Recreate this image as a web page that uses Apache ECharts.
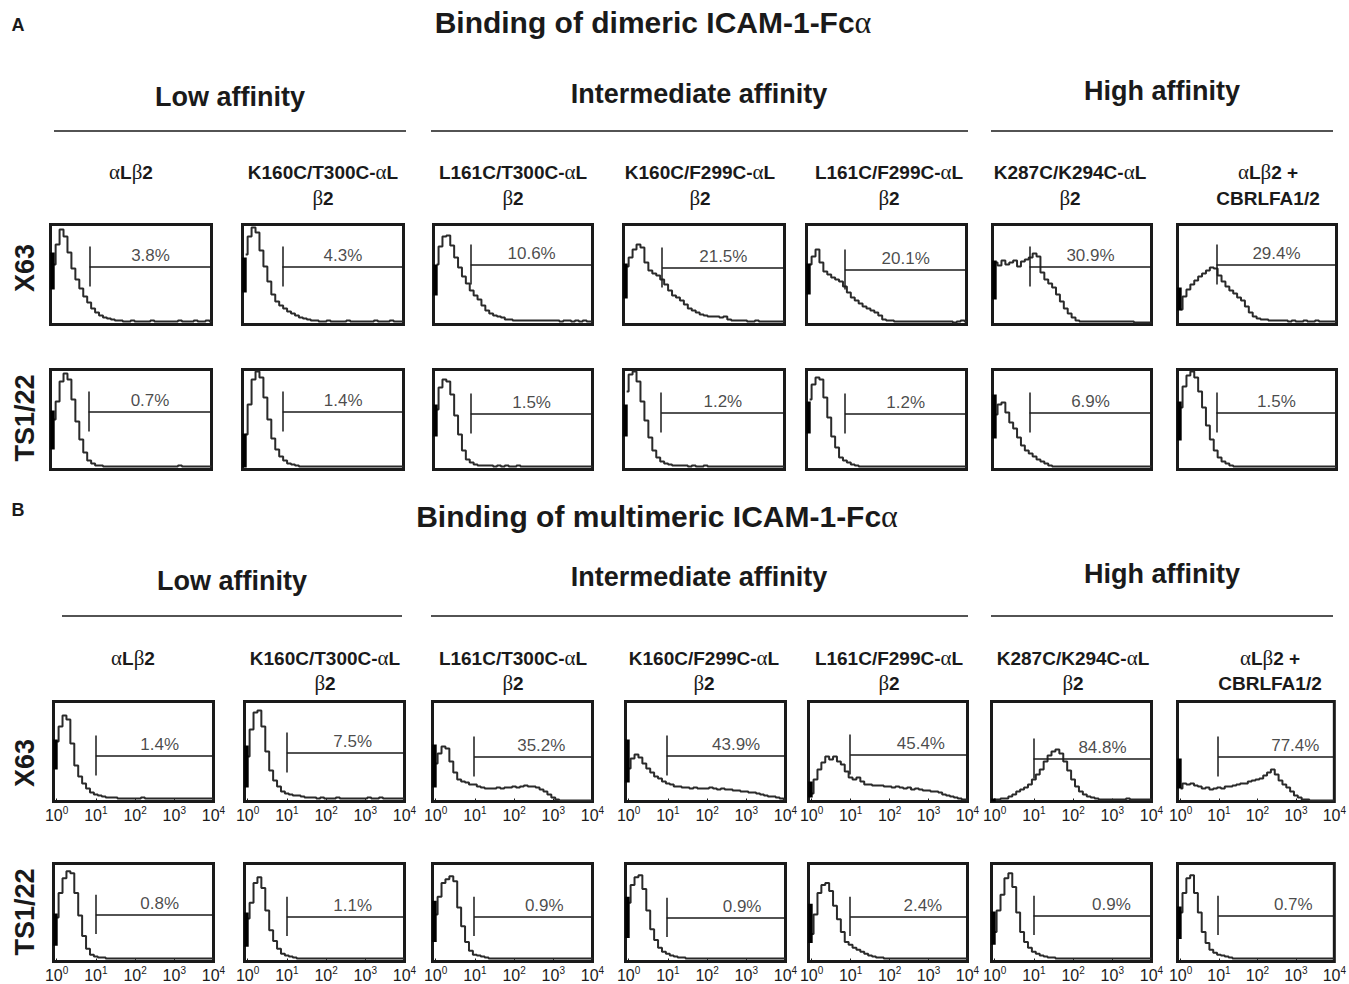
<!DOCTYPE html>
<html>
<head>
<meta charset="utf-8">
<script src="https://cdn.jsdelivr.net/npm/echarts@6/dist/echarts.min.js"></script>
<style>
html,body{margin:0;padding:0;background:#fff;}
#c{width:1349px;height:984px;}
</style>
</head>
<body>
<div id="c"></div>
<script>
// ---------------- DATA ----------------
// fluorescence channel positions (log10 units: 0 -> 10^0 ... 4 -> 10^4)
const LOG_X = [0,0.1,0.2,0.3,0.4,0.5,0.6,0.7,0.8,0.9,1,1.1,1.2,1.3,1.4,1.5,1.6,1.7,1.8,1.9,2,2.1,2.2,2.3,2.4,2.5,2.6,2.7,2.8,2.9,3,3.1,3.2,3.3,3.4,3.5,3.6,3.7,3.8,3.9,4];
const TICKS = [0,1,2,3,4];

const panelTitles = ['Binding of dimeric ICAM-1-Fcα', 'Binding of multimeric ICAM-1-Fcα'];
const panelLetters = ['A', 'B'];
const groups = ['Low affinity', 'Intermediate affinity', 'High affinity'];
const rowsLabels = ['X63', 'TS1/22'];
const columns = [
  ['αLβ2'],
  ['K160C/T300C-αL', 'β2'],
  ['L161C/T300C-αL', 'β2'],
  ['K160C/F299C-αL', 'β2'],
  ['L161C/F299C-αL', 'β2'],
  ['K287C/K294C-αL', 'β2'],
  ['αLβ2 +', 'CBRLFA1/2']
];

// relative cell counts (0-100 of the panel height)
const A_X63 = [
  [60,80,95,88,72,56,45,36,28,22,16,12,9,7,6,5,4,4,3,3,4,3,3,3,3,4,3,3,3,3,3,3,4,3,3,3,4,3,3,4,3],
  [70,88,97,92,74,58,43,30,23,19,16,13,11,9,7,6,5,4,4,3,3,4,3,3,3,3,4,3,3,3,3,3,3,4,3,3,3,4,3,3,3],
  [60,78,88,89,79,67,57,48,41,34,29,25,19,14,11,9,8,7,5,5,4,4,4,4,4,4,4,4,4,4,4,4,3,4,4,3,4,3,4,3,3],
  [58,67,75,80,77,62,54,51,49,45,40,34,29,27,24,20,16,14,12,10,9,8,8,8,7,8,5,4,4,4,4,3,3,4,3,3,3,3,3,3,3],
  [60,68,75,62,53,50,47,45,43,38,32,27,24,21,18,16,14,12,9,5,4,4,3,3,3,3,3,3,3,3,3,3,3,3,3,3,3,2,3,4,3],
  [62,59,64,60,62,64,58,63,65,67,71,68,52,45,41,37,30,23,16,11,7,4,3,3,3,3,3,3,3,3,3,3,3,3,3,3,2,2,2,2,2],
  [15,28,35,40,44,48,51,54,57,56,49,43,38,34,31,27,24,18,12,8,6,5,5,4,4,4,4,4,3,4,3,3,4,3,3,4,3,3,3,3,3]
];
const A_TS = [
  [50,68,88,96,90,70,48,30,17,9,6,4,4,3,3,3,3,3,3,3,3,3,3,3,3,3,3,3,3,3,3,3,4,3,3,3,3,3,3,3,3],
  [35,65,90,98,92,72,50,31,20,13,9,6,5,4,3,3,3,3,3,3,3,3,3,3,3,3,3,3,3,3,3,3,3,3,3,3,3,3,3,3,3],
  [60,82,90,88,75,54,35,19,10,7,5,4,4,4,4,3,4,3,4,3,3,4,3,3,3,3,3,3,3,3,3,3,3,3,3,3,3,3,3,3,3],
  [78,95,98,88,68,49,32,19,12,8,6,5,4,4,4,4,3,4,3,3,4,3,3,3,3,3,3,3,3,3,3,3,3,3,3,3,3,3,3,3,3],
  [70,85,92,90,72,52,33,22,12,9,7,5,4,3,3,3,3,3,3,3,3,3,3,3,3,3,3,3,3,3,3,3,3,3,3,3,3,3,3,3,3],
  [55,65,67,57,47,41,32,24,19,16,13,10,8,6,4,3,3,3,3,3,3,3,3,3,3,3,3,3,3,3,3,3,3,3,3,3,3,3,3,3,3],
  [62,83,94,98,92,78,62,44,30,19,12,8,6,4,3,3,3,3,3,3,3,3,3,3,3,3,3,3,3,3,3,3,3,3,3,3,3,3,3,3,3]
];
const B_X63 = [
  [60,75,86,82,58,36,25,18,13,9,7,6,5,4,4,4,3,3,3,3,3,3,4,3,3,3,3,3,3,3,3,3,3,3,3,3,3,3,3,3,3],
  [45,72,89,91,75,50,31,21,15,10,8,7,6,6,5,4,4,4,3,4,3,3,3,4,3,3,3,3,3,3,3,4,3,3,4,3,3,3,3,3,3],
  [38,48,55,53,40,29,22,20,19,17,17,15,14,13,13,13,14,13,14,14,15,14,15,16,15,15,14,12,10,7,4,2,1,1,1,1,1,1,1,1,1],
  [33,43,47,44,38,33,29,25,23,20,18,17,15,15,14,14,13,14,13,13,13,14,13,12,13,12,12,11,11,10,10,9,9,8,7,6,5,5,4,3,2],
  [8,22,32,39,45,42,45,40,37,30,24,22,24,20,17,17,16,16,16,15,15,14,15,14,13,14,12,13,12,11,11,10,10,9,7,6,5,4,3,2,2],
  [2,2,3,3,5,7,10,12,14,17,22,27,32,40,46,50,52,48,40,31,22,15,10,7,5,4,3,2,2,2,2,2,2,2,3,2,2,2,2,2,2],
  [13,18,17,18,16,15,13,14,12,13,14,13,15,15,16,17,18,18,20,21,22,23,26,29,32,27,21,17,14,10,6,4,2,2,1,1,1,1,1,1,1]
];
const B_TS = [
  [45,70,85,92,90,70,47,26,13,7,5,4,4,3,3,3,3,3,3,3,3,3,3,3,3,3,3,3,3,3,3,3,3,3,3,3,3,3,3,3,3],
  [44,60,80,86,75,52,32,21,13,8,6,5,4,3,3,3,3,3,3,3,3,3,3,3,3,3,3,3,3,3,3,3,3,3,3,3,3,3,3,3,3],
  [48,66,80,84,87,82,55,36,20,11,7,6,5,4,3,3,3,3,3,3,3,3,3,3,3,3,3,3,3,3,3,3,3,3,3,3,3,3,3,3,3],
  [60,78,86,88,74,52,33,22,14,10,8,6,5,4,4,3,3,3,3,3,3,3,3,3,3,3,3,3,3,3,3,3,3,3,3,3,3,3,3,3,3],
  [28,48,70,78,80,72,57,43,30,20,17,14,12,10,8,6,5,4,4,3,3,3,3,3,3,3,3,3,3,3,3,3,3,3,3,3,3,3,3,3,3],
  [30,52,68,85,90,76,50,30,20,14,10,8,6,5,4,4,3,3,3,3,3,3,3,3,3,3,3,3,3,3,3,3,3,3,3,3,3,3,3,3,3],
  [50,70,85,88,70,50,30,19,12,9,7,6,5,4,3,3,3,3,3,3,3,3,3,3,3,3,3,3,3,3,3,3,3,3,3,3,3,3,3,3,3]
];

// off-scale pile-up in the first channel: [low, high]
const A_X63_EDGE = [[35,72],[32,67],[29,60],[26,61],[30,61],[25,64],[14,37]];
const A_TS_EDGE  = [[20,59],[2,36],[33,65],[33,65],[36,68],[31,75],[29,68]];
const B_X63_EDGE = [[32,62],[14,56],[14,57],[19,62],[4,20],[0,3],[13,43]];
const B_TS_EDGE  = [[16,49],[15,50],[20,62],[24,66],[19,59],[17,51],[23,56]];

// marker gate: [threshold (log10), marker height]
const A_X63_GATE = [[0.91,58],[0.93,58],[0.875,60],[0.9,57],[0.9,55],[0.87,58],[0.92,60]];
const A_TS_GATE  = [[0.885,58],[0.94,58],[0.875,56],[0.875,57],[0.9,56],[0.87,57],[0.92,57]];
const B_X63_GATE = [[1.0,46],[1.0,49],[0.98,45],[0.97,46],[0.99,47],[0.99,43],[0.98,45]];
const B_TS_GATE  = [[1.0,48],[1.0,46],[0.98,46],[0.97,45],[0.99,46],[0.99,47],[0.98,47]];

const A_X63_PCT = ['3.8%','4.3%','10.6%','21.5%','20.1%','30.9%','29.4%'];
const A_TS_PCT  = ['0.7%','1.4%','1.5%','1.2%','1.2%','6.9%','1.5%'];
const B_X63_PCT = ['1.4%','7.5%','35.2%','43.9%','45.4%','84.8%','77.4%'];
const B_TS_PCT  = ['0.8%','1.1%','0.9%','0.9%','2.4%','0.9%','0.7%'];

// ---------------- LAYOUT ----------------
const X_MIN = -0.08, X_MAX = 4, EDGE_X = -0.03, GATE_HALF = 20;
const FONT = 'Liberation Sans, Arial, Helvetica, sans-serif';
const GREEK = 'Liberation Serif, DejaVu Serif, serif';
const INK = '#1a1a1a';
const LAYOUT = {
  A: {
    letter: [18, 25], title: [653, 22],
    groups: [[230, 97], [699, 94], [1162, 91]],
    lines: [[54, 406], [431, 968], [991, 1333]], lineY: 131,
    colX: [131, 323, 513, 700, 889, 1070, 1268], colY: [172, 198],
    rows: [[223, 326], [368, 471]],
    rowLabelY: [268, 418],
    cols: [[49,213],[241,405],[432,594],[622,786],[805,968],[991,1153],[1176,1338]],
    labelDx: [[0,0,0,0,0,0,0],[0,0,0,0,0,0,0]],
    ticks: false
  },
  B: {
    letter: [18, 510], title: [657, 516],
    groups: [[232, 581], [699, 577], [1162, 574]],
    lines: [[62, 402], [431, 968], [991, 1333]], lineY: 616,
    colX: [133, 325, 513, 704, 889, 1073, 1270], colY: [658, 683],
    rows: [[700, 803], [862, 963]],
    rowLabelY: [763, 912],
    cols: [[52,215],[243,406],[431,594],[624,787],[807,969],[990,1153],[1176,1338]],
    labelDx: [[5,7,8,10,12,10,19],[5,7,11,16,14,19,17]],
    ticks: true
  }
};

// ---------------- BUILD ----------------
function greekRich(str, key) {
  let out = '', buf = '';
  for (const ch of str) {
    if (ch === 'α' || ch === 'β') {
      if (buf) { out += '{' + key + '|' + buf + '}'; buf = ''; }
      out += '{' + key + 'g|' + ch + '}';
    } else buf += ch;
  }
  if (buf) out += '{' + key + '|' + buf + '}';
  return out;
}
const RICH = {
  t:  {fill: INK, fontSize: 30, fontWeight: 'bold', fontFamily: FONT},
  tg: {fill: INK, fontSize: 32, fontWeight: 'normal', fontFamily: GREEK},
  c:  {fill: INK, fontSize: 19, fontWeight: 'bold', fontFamily: FONT},
  cg: {fill: INK, fontSize: 21, fontWeight: 'normal', fontFamily: GREEK}
};

const grids = [], xAxes = [], yAxes = [], series = [], graphics = [];

function txt(x, y, text, size, weight, rot) {
  graphics.push({
    type: 'text', x: x, y: y, rotation: rot || 0, silent: true,
    style: {text: text, fill: INK, fontSize: size, fontWeight: weight, fontFamily: FONT,
            align: 'center', verticalAlign: 'middle'}
  });
}
function richTxt(x, y, text, key) {
  graphics.push({
    type: 'text', x: x, y: y, silent: true,
    style: {text: greekRich(text, key), rich: RICH, align: 'center', verticalAlign: 'middle'}
  });
}

function addHist(L, rowIdx, colIdx, ys, edge, gate, pct) {
  const gi = grids.length;
  const [x1, x2] = L.cols[colIdx];
  const [y1, y2] = L.rows[rowIdx];
  grids.push({left: x1 + 1.5, top: y1 + 1.5, width: x2 - x1 - 3, height: y2 - y1 - 3,
    show: true, borderColor: INK, borderWidth: 3, backgroundColor: '#fff', containLabel: false});
  xAxes.push({
    gridIndex: gi, type: 'value', min: X_MIN, max: X_MAX,
    axisLine: {show: false}, splitLine: {show: false},
    axisTick: {show: L.ticks, inside: true, length: 3, customValues: TICKS, lineStyle: {color: INK, width: 1}},
    axisLabel: {
      show: L.ticks, customValues: TICKS, margin: 4,
      formatter: function (v) { return '{b|10}{s|' + Math.round(v) + '}'; },
      rich: {
        b: {fontSize: 16, color: INK, fontFamily: FONT, lineHeight: 18, verticalAlign: 'bottom'},
        s: {fontSize: 10, color: INK, fontFamily: FONT, lineHeight: 10, verticalAlign: 'top'}
      }
    }
  });
  yAxes.push({gridIndex: gi, type: 'value', min: 0, max: 100, show: false, splitLine: {show: false}});
  const [gx, gy] = gate;
  series.push({
    type: 'line', xAxisIndex: gi, yAxisIndex: gi, silent: true, animation: false,
    data: LOG_X.map((x, k) => [x, ys[k]]),
    step: 'middle', symbol: 'none', showSymbol: false,
    lineStyle: {color: '#2a2a2a', width: 2},
    markLine: {
      silent: true, animation: false, symbol: ['none', 'none'],
      label: {show: false},
      lineStyle: {color: INK, width: 1.5, type: 'solid'},
      emphasis: {disabled: true},
      data: [
        [{coord: [gx, gy - GATE_HALF]}, {coord: [gx, gy + GATE_HALF]}],
        [{coord: [gx, gy]}, {coord: [X_MAX, gy]}]
      ]
    }
  });
  series.push({
    type: 'line', xAxisIndex: gi, yAxisIndex: gi, silent: true, animation: false,
    data: [[EDGE_X, edge[0]], [EDGE_X, edge[1]]],
    symbol: 'none', lineStyle: {color: '#000', width: 4.5}
  });
  series.push({
    type: 'scatter', xAxisIndex: gi, yAxisIndex: gi, silent: true, animation: false,
    data: [[(gx + X_MAX) / 2, gy]], symbolSize: 1, itemStyle: {color: 'rgba(0,0,0,0)'},
    label: {show: true, position: 'top', distance: 2, offset: [L.labelDx[rowIdx][colIdx], 0],
      formatter: pct, fontSize: 17, color: INK, fontFamily: FONT}
  });
}

function addPanel(key, pIdx, rowsData, edges, gates, pcts) {
  const L = LAYOUT[key];
  txt(L.letter[0], L.letter[1], panelLetters[pIdx], 18, 'bold');
  richTxt(L.title[0], L.title[1], panelTitles[pIdx], 't');
  groups.forEach((g, i) => txt(L.groups[i][0], L.groups[i][1], g, 27, 'bold'));
  L.lines.forEach(seg => graphics.push({
    type: 'line', silent: true,
    shape: {x1: seg[0], y1: L.lineY, x2: seg[1], y2: L.lineY},
    style: {stroke: INK, lineWidth: 1.6}
  }));
  columns.forEach((lines, i) => lines.forEach((ln, j) => richTxt(L.colX[i], L.colY[j], ln, 'c')));
  rowsLabels.forEach((r, ri) => txt(25, L.rowLabelY[ri], r, 27, 'bold', Math.PI / 2));
  for (let r = 0; r < 2; r++) {
    for (let c = 0; c < 7; c++) {
      addHist(L, r, c, rowsData[r][c], edges[r][c], gates[r][c], pcts[r][c]);
    }
  }
}

addPanel('A', 0, [A_X63, A_TS], [A_X63_EDGE, A_TS_EDGE], [A_X63_GATE, A_TS_GATE], [A_X63_PCT, A_TS_PCT]);
addPanel('B', 1, [B_X63, B_TS], [B_X63_EDGE, B_TS_EDGE], [B_X63_GATE, B_TS_GATE], [B_X63_PCT, B_TS_PCT]);

const chart = echarts.init(document.getElementById('c'), null, {renderer: 'svg', width: 1349, height: 984});
chart.setOption({
  animation: false,
  backgroundColor: '#fff',
  grid: grids, xAxis: xAxes, yAxis: yAxes, series: series,
  graphic: {elements: graphics}
});
</script>
</body>
</html>
